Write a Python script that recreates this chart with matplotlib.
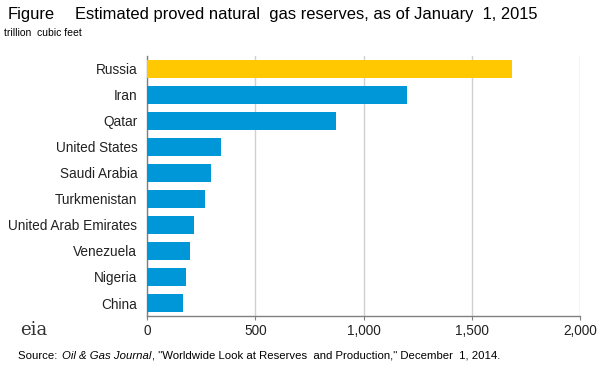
import numpy as np
import matplotlib.pyplot as plt

plt.rcParams["font.family"] = ["Liberation Sans", "DejaVu Sans"]

countries = ["Russia", "Iran", "Qatar", "United States", "Saudi Arabia",
             "Turkmenistan", "United Arab Emirates", "Venezuela", "Nigeria", "China"]
reserves = [1688, 1201, 872, 341, 295, 267, 216, 198, 180, 166]
xticks = [0, 500, 1000, 1500, 2000]
xtick_labels = ["0", "500", "1,000", "1,500", "2,000"]

colors = ["#FFC800"] + ["#0097D9"] * (len(countries) - 1)

fig = plt.figure(figsize=(6.02, 3.77), dpi=100)
ax = fig.add_axes([0.2442, 0.1618, 0.7193, 0.6897])

y = np.arange(len(countries))
ax.barh(y, reserves, height=0.68, color=colors, zorder=3)
ax.set_ylim(len(countries) - 0.5, -0.5)
ax.set_xlim(0, 2000)
ax.set_yticks(y)
ax.set_yticklabels(countries, fontsize=9.8, color="#222222")
ax.set_xticks(xticks)
ax.set_xticklabels(xtick_labels, fontsize=9.8, color="#222222")
ax.tick_params(axis="y", length=0, pad=7)
ax.tick_params(axis="x", length=3, direction="out", color="#808080", pad=3)

ax.grid(axis="x", color="#d0d0d0", linewidth=1, zorder=0)
for side in ["top", "right"]:
    ax.spines[side].set_visible(False)
for side in ["left", "bottom"]:
    ax.spines[side].set_color("#808080")
    ax.spines[side].set_linewidth(1)

fig.text(8 / 602, 1 - 15 / 377, "Figure", fontsize=11.9, va="center", ha="left")
fig.text(75 / 602, 1 - 15 / 377, "Estimated proved natural  gas reserves, as of January  1, 2015",
         fontsize=11.9, va="center", ha="left")
fig.text(4 / 602, 1 - 33 / 377, "trillion  cubic feet", fontsize=7.5, va="center", ha="left")

fig.text(20 / 602, 1 - 330 / 377, "eia", fontsize=13, family="DejaVu Serif",
         color="#333333", va="center", ha="left")

# source line, pieces chained one after another
pieces = [("Source: ", "normal"), ("Oil & Gas Journal", "italic"),
          (", \"Worldwide Look at Reserves  and Production,\" December  1, 2014.", "normal")]
x0 = 18
fig.canvas.draw()
r = fig.canvas.get_renderer()
for txt, st in pieces:
    t = fig.text(x0 / 602, 1 - 356 / 377, txt, fontsize=8.2, style=st,
                 va="center", ha="left")
    x0 = t.get_window_extent(renderer=r).x1 + 1

fig.savefig("out.png", dpi=100)
